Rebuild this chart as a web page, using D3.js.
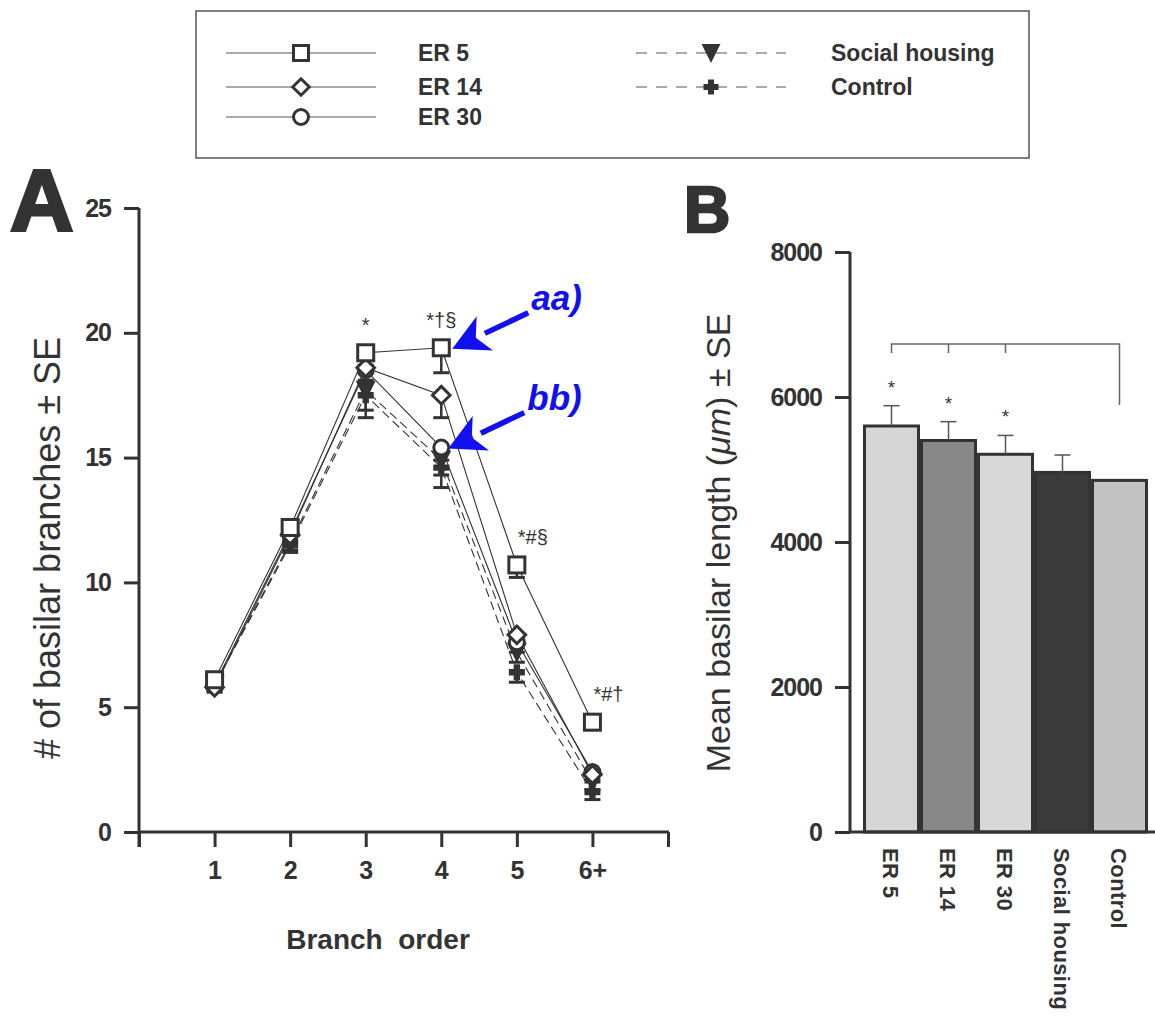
<!DOCTYPE html>
<html>
<head>
<meta charset="utf-8">
<script src="https://cdn.jsdelivr.net/npm/d3@7"></script>
<style>
  body { margin: 0; background: #fff; }
  svg text { font-family: "Liberation Sans", Arial, Helvetica, sans-serif; fill: #333; }
</style>
</head>
<body>
<div id="chart"></div>
<script>
// data for panel A (branches per order)
var branchOrders = [1, 2, 3, 4, 5, 6];
var orderLabels = ["1", "2", "3", "4", "5", "6+"];
var er5Values   = [6.1, 12.2, 19.2, 19.4, 10.7, 4.4];
var er14Values  = [5.8, 11.9, 18.6, 17.5, 7.9, 2.3];
var er30Values  = [5.9, 12.0, 18.5, 15.4, 7.6, 2.4];
var socialValues  = [5.9, 11.6, 17.7, 14.9, 7.2, 2.0];
var controlValues = [5.9, 11.5, 17.5, 14.6, 6.4, 1.6];
var er5Se   = [0.3, 0.3, 0.5, 1.0, 0.5, 0.3];
var er14Se  = [0.2, 0.3, 0.5, 0.9, 0.4, 0.3];
var er30Se  = [0.2, 0.3, 0.5, 0.5, 0.4, 0.3];
var socialSe  = [0.2, 0.3, 0.8, 0.6, 0.4, 0.3];
var controlSe = [0.2, 0.3, 0.9, 0.8, 0.4, 0.3];
var sigLabels = ["", "", "*", "*\u2020\u00a7", "*#\u00a7", "*#\u2020"];
var yTicksA = [0, 5, 10, 15, 20, 25];

// data for panel B (basilar length)
var groups = ["ER 5", "ER 14", "ER 30", "Social housing", "Control"];
var lengthValues = [5600, 5400, 5210, 4960, 4850];
var lengthSe = [280, 260, 260, 240, 0];
var lengthSig = ["*", "*", "*", "", ""];
var yTicksB = [0, 2000, 4000, 6000, 8000];

var ink = "#333";

var svg = d3.select("#chart")
    .append("svg")
    .attr("width", 1155)
    .attr("height", 1018);

//series table
var series = [
    {name: "ER 5", values: er5Values, se: er5Se, shape: "square", dashed: false},
    {name: "ER 14", values: er14Values, se: er14Se, shape: "diamond", dashed: false},
    {name: "ER 30", values: er30Values, se: er30Se, shape: "circle", dashed: false},
    {name: "Social housing", values: socialValues, se: socialSe, shape: "triangle", dashed: true},
    {name: "Control", values: controlValues, se: controlSe, shape: "plus", dashed: true}
];

//draw a marker shape into a group
function drawMarker(g, shape, size) {
    var s = size;
    if (shape === "square") {
        g.append("rect").attr("x", -s / 2).attr("y", -s / 2).attr("width", s).attr("height", s)
            .attr("fill", "#fff").attr("stroke", ink).attr("stroke-width", 3);
    } else if (shape === "diamond") {
        var d = s * 0.55;
        g.append("path").attr("d", `M0,${-d}L${d},0L0,${d}L${-d},0Z`)
            .attr("fill", "#fff").attr("stroke", ink).attr("stroke-width", 3);
    } else if (shape === "circle") {
        g.append("circle").attr("r", s / 2)
            .attr("fill", "#fff").attr("stroke", ink).attr("stroke-width", 3);
    } else if (shape === "triangle") {
        var t = s * 0.55;
        g.append("path").attr("d", `M${-t},${-t}L${t},${-t}L0,${t}Z`)
            .attr("fill", ink).attr("stroke", ink).attr("stroke-width", 1.5);
    } else if (shape === "plus") {
        var a = s * 0.5, b = s * 0.2;
        g.append("path").attr("d", `M${-b},${-a}H${b}V${-b}H${a}V${b}H${b}V${a}H${-b}V${b}H${-a}V${-b}H${-b}Z`)
            .attr("fill", ink);
    }
}

//////////////////////////////////////////////////////
// Legend
svg.append("rect")
    .attr("x", 196).attr("y", 11)
    .attr("width", 833).attr("height", 147)
    .attr("fill", "#fff").attr("stroke", "#555").attr("stroke-width", 1.5);

var legendPos = [
    {x: 226, y: 53}, {x: 226, y: 87}, {x: 226, y: 117},
    {x: 636, y: 53}, {x: 636, y: 87}
];
series.forEach(function(s, i) {
    var p = legendPos[i];
    var lg = svg.append("g").attr("transform", `translate(${p.x}, ${p.y})`);
    lg.append("line").attr("x1", 0).attr("x2", 150)
        .attr("stroke", "#555").attr("stroke-width", 1.2)
        .attr("stroke-dasharray", s.dashed ? "11,9" : null);
    var mg = lg.append("g").attr("transform", "translate(75,0)");
    drawMarker(mg, s.shape, 15);
    lg.append("text")
        .attr("x", s.dashed ? 195 : 192)
        .attr("y", 8)
        .attr("font-size", 23)
        .attr("font-weight", "bold")
        .text(s.name);
});

//////////////////////////////////////////////////////
// Panel A
var xA = d3.scaleLinear().domain([0, 7]).range([139, 668]);
var yA = d3.scaleLinear().domain([0, 25]).range([832, 208]);

var leftAxisA = d3.axisLeft(yA).tickValues(yTicksA).tickSize(15).tickPadding(13).tickSizeOuter(0);
var gyA = svg.append("g").attr("transform", "translate(139,0)").call(leftAxisA);
gyA.select(".domain").remove();
gyA.selectAll("line").attr("stroke", ink).attr("stroke-width", 3);
gyA.selectAll("text").attr("font-size", 25).attr("font-weight", "bold")
    .attr("font-family", "Liberation Sans, Arial, sans-serif").attr("fill", ink)
    .attr("letter-spacing", -1);

var bottomAxisA = d3.axisBottom(xA).tickValues([0, 1, 2, 3, 4, 5, 6, 7]).tickSize(15).tickPadding(14)
    .tickFormat(function(d) { return d >= 1 && d <= 6 ? orderLabels[d - 1] : ""; });
var gxA = svg.append("g").attr("transform", "translate(0,832)").call(bottomAxisA);
gxA.select(".domain").remove();
gxA.selectAll("line").attr("stroke", ink).attr("stroke-width", 3);
gxA.selectAll("text").attr("font-size", 25).attr("font-weight", "bold")
    .attr("font-family", "Liberation Sans, Arial, sans-serif").attr("fill", ink);

// axis lines
svg.append("line").attr("x1", 139).attr("x2", 139).attr("y1", yA(25)).attr("y2", 847)
    .attr("stroke", ink).attr("stroke-width", 3);
svg.append("line").attr("x1", 139).attr("x2", 669).attr("y1", 832).attr("y2", 832)
    .attr("stroke", ink).attr("stroke-width", 3);

// lines
var lineGen = d3.line()
    .x(function(d, i) { return xA(branchOrders[i]); })
    .y(function(d) { return yA(d); });

series.slice().reverse().forEach(function(s) {
    svg.append("path")
        .datum(s.values)
        .attr("d", lineGen)
        .attr("fill", "none")
        .attr("stroke", ink)
        .attr("stroke-width", 1.1)
        .attr("stroke-dasharray", s.dashed ? "9,5" : null);
});

// error bars (downward)
series.slice().reverse().forEach(function(s) {
    s.values.forEach(function(v, i) {
        var cx = xA(branchOrders[i]);
        svg.append("line").attr("x1", cx).attr("x2", cx)
            .attr("y1", yA(v)).attr("y2", yA(v - s.se[i]))
            .attr("stroke", ink).attr("stroke-width", 2.5);
        svg.append("line").attr("x1", cx - 8).attr("x2", cx + 8)
            .attr("y1", yA(v - s.se[i])).attr("y2", yA(v - s.se[i]))
            .attr("stroke", ink).attr("stroke-width", 3);
    });
});

// markers
series.slice().reverse().forEach(function(s) {
    s.values.forEach(function(v, i) {
        var mg = svg.append("g")
            .attr("transform", `translate(${xA(branchOrders[i])}, ${yA(v)})`);
        drawMarker(mg, s.shape, s.shape === "circle" ? 15 : 16);
    });
});

// significance labels above ER 5
sigLabels.forEach(function(lab, i) {
    if (!lab) return;
    svg.append("text")
        .attr("x", xA(branchOrders[i]) + (i >= 4 ? 16 : 0))
        .attr("y", yA(er5Values[i]) - 21)
        .attr("text-anchor", "middle")
        .attr("font-size", 20)
        .attr("fill", "#111")
        .text(lab);
});

// blue arrows
var blue = "#1010f0";
function blueArrow(tipX, tipY, label) {
    var tailX = tipX + 76, tailY = tipY - 36;
    var ang = Math.atan2(tipY - tailY, tipX - tailX);
    var hl = 36, hw = 19;
    var bx = tipX - hl * Math.cos(ang), by = tipY - hl * Math.sin(ang);
    var nx = -Math.sin(ang), ny = Math.cos(ang);
    svg.append("line").attr("x1", tailX).attr("y1", tailY).attr("x2", bx).attr("y2", by)
        .attr("stroke", blue).attr("stroke-width", 5.5);
    svg.append("path")
        .attr("d", `M${tipX},${tipY}L${bx + nx * hw},${by + ny * hw}L${bx + 10 * Math.cos(ang)},${by + 10 * Math.sin(ang)}L${bx - nx * hw},${by - ny * hw}Z`)
        .attr("fill", blue);
    svg.append("text")
        .attr("x", tailX + 3).attr("y", tailY - 3)
        .attr("font-size", 35).attr("font-weight", "bold").attr("font-style", "italic")
        .attr("fill", blue).style("fill", blue)
        .text(label);
}
blueArrow(xA(4) + 11, yA(er5Values[3]) + 1, "aa)");
blueArrow(xA(4) + 7, yA(er30Values[3]) + 1, "bb)");

// titles
svg.append("text").attr("x", 10).attr("y", 230)
    .attr("font-size", 88).attr("font-weight", "bold")
    .attr("stroke", ink).attr("stroke-width", 3).text("A");
svg.append("text")
    .attr("transform", "translate(60,548) rotate(-90)")
    .attr("text-anchor", "middle")
    .attr("font-size", 36)
    .text("# of basilar branches \u00b1 SE");
svg.append("text")
    .attr("x", 378).attr("y", 949)
    .attr("text-anchor", "middle")
    .attr("font-size", 28).attr("font-weight", "bold")
    .attr("xml:space", "preserve")
    .style("white-space", "pre")
    .text("Branch  order");

//////////////////////////////////////////////////////
// Panel B
var xB = d3.scaleBand().domain(groups).range([863, 1148]).padding(0);
var yB = d3.scaleLinear().domain([0, 8000]).range([832, 252]);
var barFills = ["#d6d6d6", "#888888", "#d8d8d8", "#3a3a3a", "#c2c2c2"];

var leftAxisB = d3.axisLeft(yB).tickValues(yTicksB).tickSize(15).tickPadding(13).tickSizeOuter(0)
    .tickFormat(d3.format("d"));
var gyB = svg.append("g").attr("transform", "translate(850,0)").call(leftAxisB);
gyB.select(".domain").remove();
gyB.selectAll("line").attr("stroke", ink).attr("stroke-width", 3);
gyB.selectAll("text").attr("font-size", 25).attr("font-weight", "bold")
    .attr("font-family", "Liberation Sans, Arial, sans-serif").attr("fill", ink)
    .attr("letter-spacing", -1);

svg.append("line").attr("x1", 850).attr("x2", 850).attr("y1", yB(8000)).attr("y2", 833)
    .attr("stroke", ink).attr("stroke-width", 3);

// bars
svg.selectAll(".bar")
    .data(groups)
    .enter()
    .append("rect")
    .attr("class", "bar")
    .attr("x", function(d) { return xB(d) + 1.5; })
    .attr("y", function(d, i) { return yB(lengthValues[i]); })
    .attr("width", xB.bandwidth() - 3)
    .attr("height", function(d, i) { return yB(0) - yB(lengthValues[i]); })
    .attr("fill", function(d, i) { return barFills[i]; })
    .attr("stroke", ink)
    .attr("stroke-width", 3);

svg.append("line").attr("x1", 849).attr("x2", 1155).attr("y1", 832).attr("y2", 832)
    .attr("stroke", ink).attr("stroke-width", 3);

// error bars B
groups.forEach(function(g, i) {
    if (!lengthSe[i]) return;
    var cx = xB(g) + xB.bandwidth() / 2;
    var top = yB(lengthValues[i] + lengthSe[i]);
    svg.append("line").attr("x1", cx).attr("x2", cx)
        .attr("y1", yB(lengthValues[i])).attr("y2", top)
        .attr("stroke", "#555").attr("stroke-width", 1.5);
    svg.append("line").attr("x1", cx - 8).attr("x2", cx + 8)
        .attr("y1", top).attr("y2", top)
        .attr("stroke", "#555").attr("stroke-width", 1.5);
    if (lengthSig[i]) {
        svg.append("text")
            .attr("x", cx).attr("y", top - 12)
            .attr("text-anchor", "middle")
            .attr("font-size", 19)
            .attr("fill", "#111")
            .text(lengthSig[i]);
    }
});

// comparison bracket
var bracketY = 344;
var c0 = xB(groups[0]) + xB.bandwidth() / 2;
var c4 = xB(groups[4]) + xB.bandwidth() / 2;
svg.append("path")
    .attr("d", `M${c0},${bracketY + 9}V${bracketY}H${c4}V${bracketY + 61}`)
    .attr("fill", "none").attr("stroke", "#666").attr("stroke-width", 1.5);
[1, 2].forEach(function(i) {
    var cx = xB(groups[i]) + xB.bandwidth() / 2;
    svg.append("line").attr("x1", cx).attr("x2", cx)
        .attr("y1", bracketY).attr("y2", bracketY + 9)
        .attr("stroke", "#666").attr("stroke-width", 1.5);
});

// group labels
groups.forEach(function(g) {
    var cx = xB(g) + xB.bandwidth() / 2;
    svg.append("text")
        .attr("transform", `translate(${cx - 9}, 848) rotate(90)`)
        .attr("font-size", 22)
        .attr("font-weight", "bold")
        .attr("letter-spacing", 0.4)
        .text(g);
});

svg.append("text").attr("x", 684).attr("y", 232)
    .attr("font-size", 64).attr("font-weight", "bold")
    .attr("stroke", ink).attr("stroke-width", 2.5).text("B");
var yLabB = svg.append("text")
    .attr("transform", "translate(730,543) rotate(-90)")
    .attr("text-anchor", "middle")
    .attr("font-size", 34);
yLabB.append("tspan").text("Mean basilar length (");
yLabB.append("tspan").attr("font-style", "italic").text("\u03bcm");
yLabB.append("tspan").text(") \u00b1 SE");
</script>
</body>
</html>
